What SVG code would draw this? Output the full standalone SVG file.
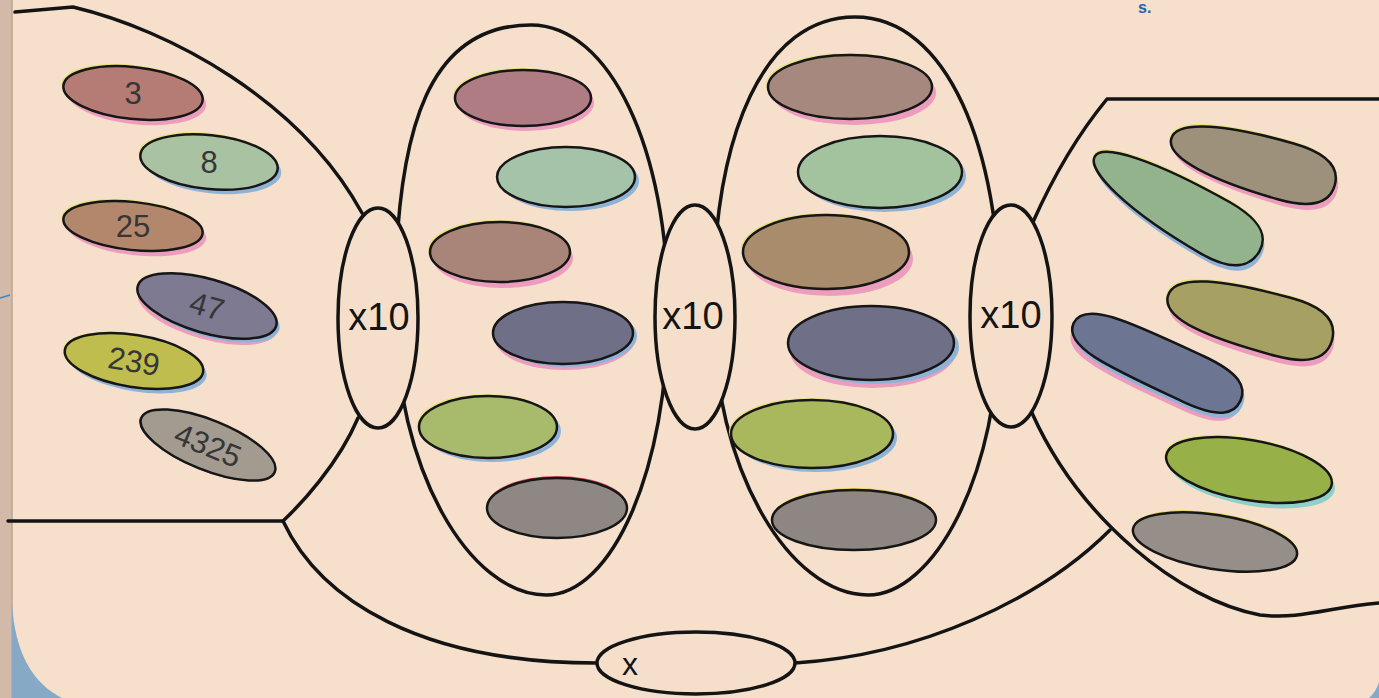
<svg xmlns="http://www.w3.org/2000/svg" width="1379" height="698" viewBox="0 0 1379 698">
<style>
.ln{fill:none;stroke:#141414;stroke-width:3.5;stroke-linecap:round;stroke-linejoin:round}
.ov{fill:#f5dfca;stroke:#141414;stroke-width:3.5}
.b{stroke:#161616;stroke-width:2.5}
.sp{fill:#ec9dbd}
.sb{fill:#8fb3d6}
.st{fill:#8fd0c8}
.hl{fill:#e8e27a}
.num{font-family:"Liberation Sans",Arial,sans-serif;font-size:31px;fill:#363636;text-anchor:middle}
.lab{font-family:"Liberation Sans",Arial,sans-serif;font-size:38px;fill:#141414;text-anchor:middle}
</style>
<rect width="1379" height="698" fill="#f6dfcb"/>
<rect x="0" y="0" width="12" height="698" fill="#d3baa8"/>
<line x1="12" y1="0" x2="12" y2="698" stroke="#bda48f" stroke-width="1.5"/>
<path d="M 12,603 Q 16,675 62,698 L 12,698 Z" fill="#86a9c6"/>
<path d="M 1379,682 Q 1376,692 1369,698 L 1379,698 Z" fill="#86a9c6"/>
<path d="M 0,298 L 10,295" stroke="#3d86c4" stroke-width="1.5" fill="none"/>
<text x="1138" y="13" font-family="Liberation Sans,Arial,sans-serif" font-size="16" font-weight="bold" fill="#1f62b4">s.</text>

<g id="connectors">
<path class="ln" d="M 15,12 L 73,7 C 170,30 300,100 362,213"/>
<path class="ln" d="M 8,521 L 283,521 C 300,505 338,465 358,418"/>
<path class="ln" d="M 283,521 C 320,600 420,663 597,663"/>
<path class="ln" d="M 795,663 C 920,655 1040,600 1110,530"/>
<path class="ln" d="M 1033,222 Q 1065,150 1107,99 L 1379,99"/>
<path class="ln" d="M 1032,413 C 1080,520 1180,600 1260,615 C 1300,620 1330,607 1379,603"/>
</g>

<g id="groupA">
<path class="ln" d="M 531,25 C 610,25 668,150 668,310 C 668,470 612,595 546,595 C 470,595 395,470 395,310 C 395,120 432,25 531,25 Z"/>
</g>
<g id="groupB">
<path class="ln" d="M 855,17 C 948,17 1000,150 1000,310 C 1000,480 932,595 868,595 C 790,595 713,470 713,310 C 713,130 765,17 855,17 Z"/>
</g>

<g id="mul1"><ellipse class="ov" cx="378" cy="318" rx="40" ry="110"/><text class="lab" x="379" y="330">x10</text></g>
<g id="mul2"><ellipse class="ov" cx="695" cy="317" rx="40" ry="112"/><text class="lab" x="693" y="329">x10</text></g>
<g id="mul3"><ellipse class="ov" cx="1011" cy="316" rx="41" ry="111"/><text class="lab" x="1011" y="328">x10</text></g>
<g id="xnode"><ellipse class="ov" cx="696" cy="663" rx="99" ry="31"/><text x="630" y="675" font-family="Liberation Sans,Arial,sans-serif" font-size="32" fill="#141414" text-anchor="middle">x</text></g>

<!-- left numbers -->
<g id="n3" transform="translate(133,93)"><g transform="rotate(6)"><ellipse class="hl" cx="-2" cy="-2" rx="70" ry="26"/><ellipse class="sp" cx="4" cy="5" rx="70" ry="26"/><ellipse class="b" rx="70" ry="26" fill="#b47c74"/></g><text class="num" x="0" y="11">3</text></g>
<g id="n8" transform="translate(209,162)"><g transform="rotate(6)"><ellipse class="hl" cx="-2" cy="-2" rx="69" ry="27"/><ellipse class="sb" cx="4" cy="4" rx="69" ry="27"/><ellipse class="b" rx="69" ry="27" fill="#a9c2a2"/></g><text class="num" x="0" y="11">8</text></g>
<g id="n25" transform="translate(133,226)"><g transform="rotate(6)"><ellipse class="hl" cx="-2" cy="-2" rx="70" ry="24"/><ellipse class="sp" cx="4" cy="5" rx="70" ry="24"/><ellipse class="b" rx="70" ry="24" fill="#b2876c"/></g><text class="num" x="0" y="11">25</text></g>
<g id="n47" transform="translate(207,306) rotate(16)"><ellipse class="sp" cx="2" cy="6" rx="72" ry="27"/><ellipse class="sb" cx="4" cy="3" rx="72" ry="27"/><ellipse class="b" rx="72" ry="27" fill="#7d7a92"/><text class="num" x="0" y="11">47</text></g>
<g id="n239" transform="translate(134,361) rotate(9)"><ellipse class="sb" cx="4" cy="4" rx="70" ry="26"/><ellipse class="hl" cx="-2" cy="-1" rx="70" ry="26"/><ellipse class="b" rx="70" ry="26" fill="#bfbd4e"/><text class="num" x="0" y="11">239</text></g>
<g id="n4325" transform="translate(208,445) rotate(22)"><ellipse fill="#4a6ad0" cx="-1" cy="1" rx="72" ry="25"/><ellipse class="b" rx="72" ry="25" fill="#a39b90"/><text class="num" x="0" y="11">4325</text></g>

<!-- group A blobs -->
<g id="a1" transform="translate(523,98)"><ellipse class="hl" cx="-2" cy="-2" rx="68" ry="28"/><ellipse class="sp" cx="3" cy="5" rx="68" ry="28"/><ellipse class="b" rx="68" ry="28" fill="#b07c84"/></g>
<g id="a2" transform="translate(566,177)"><ellipse class="sb" cx="4" cy="4" rx="69" ry="30"/><ellipse class="b" rx="69" ry="30" fill="#a5c3a9"/></g>
<g id="a3" transform="translate(500,252)"><ellipse class="hl" cx="-2" cy="-2" rx="70" ry="30"/><ellipse class="sp" cx="3" cy="6" rx="70" ry="30"/><ellipse class="b" rx="70" ry="30" fill="#a88578"/></g>
<g id="a4" transform="translate(563,333)"><ellipse class="sp" cx="2" cy="6" rx="70" ry="31"/><ellipse class="sb" cx="4" cy="3" rx="70" ry="31"/><ellipse class="b" rx="70" ry="31" fill="#6f6f88"/></g>
<g id="a5" transform="translate(488,427)"><ellipse class="hl" cx="-2" cy="-2" rx="69" ry="31"/><ellipse class="sb" cx="4" cy="4" rx="69" ry="31"/><ellipse class="b" rx="69" ry="31" fill="#a8ba6c"/></g>
<g id="a6" transform="translate(557,508)"><ellipse fill="#d84a5a" cx="0" cy="-2" rx="70" ry="30"/><ellipse class="b" rx="70" ry="30" fill="#8f8783"/></g>

<!-- group B blobs -->
<g id="b1" transform="translate(850,87)"><ellipse class="hl" cx="-2" cy="-2" rx="82" ry="32"/><ellipse class="sp" cx="4" cy="6" rx="82" ry="32"/><ellipse class="b" rx="82" ry="32" fill="#a7887e"/></g>
<g id="b2" transform="translate(880,172)"><ellipse class="sb" cx="4" cy="4" rx="82" ry="36"/><ellipse class="b" rx="82" ry="36" fill="#a2c39e"/></g>
<g id="b3" transform="translate(826,252)"><ellipse class="hl" cx="-2" cy="-2" rx="83" ry="37"/><ellipse class="sp" cx="4" cy="7" rx="83" ry="37"/><ellipse class="b" rx="83" ry="37" fill="#a88c6c"/></g>
<g id="b4" transform="translate(871,343)"><ellipse class="sp" cx="2" cy="8" rx="83" ry="37"/><ellipse class="sb" cx="5" cy="4" rx="83" ry="37"/><ellipse class="b" rx="83" ry="37" fill="#6f7088"/></g>
<g id="b5" transform="translate(812,434)"><ellipse class="hl" cx="-2" cy="-2" rx="81" ry="34"/><ellipse class="sb" cx="4" cy="4" rx="81" ry="34"/><ellipse class="b" rx="81" ry="34" fill="#a9b85c"/></g>
<g id="b6" transform="translate(854,520)"><ellipse fill="#e8d040" cx="0" cy="-2" rx="82" ry="30"/><ellipse class="b" rx="82" ry="30" fill="#8e8682"/></g>

<!-- right blobs -->
<g id="r1" transform="translate(1253,162) rotate(16)"><path class="hl" transform="translate(-2,-2)" d="M -85,0 C -85,-20 -34,-29 34,-29 C 72,-29 85,-17 85,0 C 85,17 72,29 34,29 C -34,29 -85,20 -85,0 Z"/><path class="sp" transform="translate(4,5)" d="M -85,0 C -85,-20 -34,-29 34,-29 C 72,-29 85,-17 85,0 C 85,17 72,29 34,29 C -34,29 -85,20 -85,0 Z"/><path class="b" fill="#9d917b" d="M -85,0 C -85,-20 -34,-29 34,-29 C 72,-29 85,-17 85,0 C 85,17 72,29 34,29 C -34,29 -85,20 -85,0 Z"/></g>
<g id="r2" transform="translate(1177,204) rotate(30)"><path class="hl" transform="translate(-2,-2)" d="M -95,0 C -95,-16 -40,-27 45,-28 C 84,-28 95,-16 95,0 C 95,16 84,31 45,31 C -40,31 -95,16 -95,0 Z"/><path class="sb" transform="translate(4,4)" d="M -95,0 C -95,-16 -40,-27 45,-28 C 84,-28 95,-16 95,0 C 95,16 84,31 45,31 C -40,31 -95,16 -95,0 Z"/><path class="b" fill="#93b38c" d="M -95,0 C -95,-16 -40,-27 45,-28 C 84,-28 95,-16 95,0 C 95,16 84,31 45,31 C -40,31 -95,16 -95,0 Z"/></g>
<g id="r3" transform="translate(1250,318) rotate(15)"><path class="hl" transform="translate(-2,-2)" d="M -85,0 C -85,-24 -34,-30 34,-30 C 72,-30 85,-17 85,0 C 85,17 72,30 34,30 C -34,30 -85,24 -85,0 Z"/><path class="sp" transform="translate(3,6)" d="M -85,0 C -85,-24 -34,-30 34,-30 C 72,-30 85,-17 85,0 C 85,17 72,30 34,30 C -34,30 -85,24 -85,0 Z"/><path class="b" fill="#a6a063" d="M -85,0 C -85,-24 -34,-30 34,-30 C 72,-30 85,-17 85,0 C 85,17 72,30 34,30 C -34,30 -85,24 -85,0 Z"/></g>
<g id="r4" transform="translate(1157,362) rotate(25)"><path class="sp" transform="translate(2,8)" d="M -92,0 C -92,-26 -40,-25 40,-25 C 80,-25 92,-15 92,0 C 92,15 80,25 40,25 C -40,25 -92,26 -92,0 Z"/><path class="sb" transform="translate(4,4)" d="M -92,0 C -92,-26 -40,-25 40,-25 C 80,-25 92,-15 92,0 C 92,15 80,25 40,25 C -40,25 -92,26 -92,0 Z"/><path class="b" fill="#6c7592" d="M -92,0 C -92,-26 -40,-25 40,-25 C 80,-25 92,-15 92,0 C 92,15 80,25 40,25 C -40,25 -92,26 -92,0 Z"/></g>
<g id="r5" transform="translate(1249,470) rotate(10)"><ellipse class="hl" cx="-2" cy="-2" rx="84" ry="30"/><ellipse class="st" cx="4" cy="5" rx="84" ry="30"/><ellipse class="b" rx="84" ry="30" fill="#98b048"/></g>
<g id="r6" transform="translate(1215,542) rotate(9)"><ellipse fill="#e8d040" cx="0" cy="-2" rx="83" ry="27"/><ellipse class="b" rx="83" ry="27" fill="#968e88"/></g>
</svg>
